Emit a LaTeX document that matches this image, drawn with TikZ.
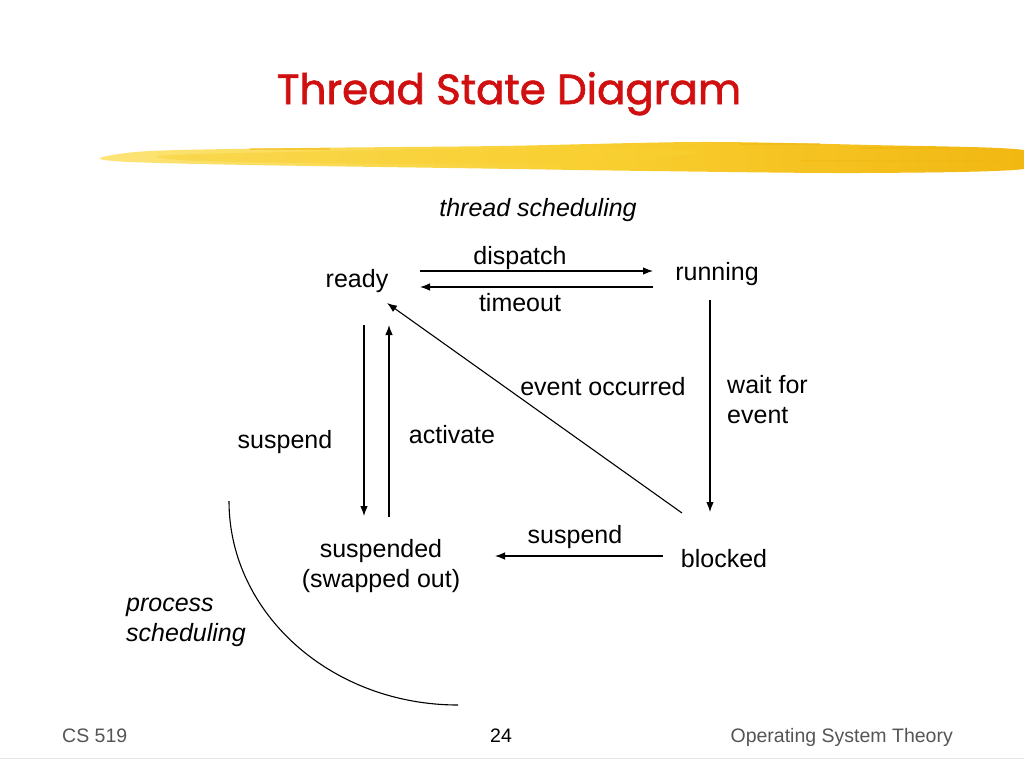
\documentclass[tikz,border=0pt]{standalone}
\usepackage{fontspec}
\setmainfont{Liberation Sans}
\newfontfamily\titlefont[FakeBold=1.6]{Poppins}
\usetikzlibrary{arrows.meta,calc}
\definecolor{titlered}{RGB}{208,16,16}
\definecolor{brushA}{RGB}{249,208,50}
\definecolor{brushB}{RGB}{241,182,16}
\definecolor{brushC}{RGB}{252,228,120}
\definecolor{footgray}{RGB}{85,85,85}
\begin{document}
\begin{tikzpicture}[x=1pt,y=-1pt,
  lbl/.style={inner sep=0pt,anchor=base,font=\fontsize{25}{30}\selectfont},
  ilbl/.style={lbl,font=\fontsize{25}{30}\selectfont\itshape},
  foot/.style={inner sep=0pt,anchor=base,font=\fontsize{19.5}{22}\selectfont,text=footgray},
  arr/.style={line width=1.1pt,-{Latex[length=10pt,width=7.5pt]}},
  plain/.style={line width=1.1pt}]
\useasboundingbox (0,0) rectangle (1024,768);
\fill[white] (0,0) rectangle (1024,768);
% brush stroke
\shade[left color=brushC,right color=brushB,middle color=brushA] plot[smooth cycle,tension=0.5] coordinates {(100,158) (150,151) (300,148) (500,146) (700,142) (870,145) (1024,150)
  (1024,169) (860,173) (650,171) (450,168) (250,165) (130,162)};
\fill[brushA,opacity=0.5] plot[smooth cycle,tension=0.5] coordinates {(170,155) (400,150) (600,148) (700,152) (600,162) (420,164) (200,161)};
\fill[brushB,opacity=0.5] (250,148) rectangle (330,150);
\fill[brushB,opacity=0.5] (740,143) rectangle (820,145);
\fill[brushB,opacity=0.5] (860,147) rectangle (950,149);
\fill[brushB,opacity=0.4] (800,160) rectangle (1000,162);
% title
\node[inner sep=0pt,anchor=base,font=\titlefont\fontsize{42}{48}\selectfont,text=titlered] (title) at (509,104) {Thread State Diagram};
% labels
\node[ilbl] (tsched) at (538,216) {thread scheduling};
\node[lbl] (ready) at (357,287) {ready};
\node[lbl] (running) at (717,280) {running};
\node[lbl] (blocked) at (724,567) {blocked};
\node[lbl,align=center] (susp) at (381,587) {suspended\\(swapped out)};
\node[lbl] (dispatch) at (520,264) {dispatch};
\node[lbl] (timeout) at (520,311) {timeout};
\node[lbl,anchor=base west,align=left] (waitev) at (727,423) {wait for\\event};
\node[lbl] (evocc) at (603,395) {event occurred};
\node[lbl] (suspL) at (285,448) {suspend};
\node[lbl] (activate) at (452,443) {activate};
\node[lbl] (suspB) at (575,543) {suspend};
\node[ilbl,anchor=base west,align=left] (psched) at (126,641) {process\\scheduling};
% connectors
\draw[arr] ($(ready.base)+(63,-16)$) -- ($(running.base)+(-64,-9)$);
\draw[arr] ($(running.base)+(-64,7)$) -- ($(ready.base)+(63,0)$);
\draw[arr] ($(running.base)+(-7,20)$) -- ($(blocked.base)+(-14,-55)$);
\draw[arr] ($(blocked.base)+(-42,-54)$) -- ($(ready.base)+(30,16)$);
\draw[arr] ($(blocked.base)+(-61,-11)$) -- ($(susp.base)+(114,-31)$);
\draw[arr] ($(ready.base)+(7,38)$) -- ($(susp.base)+(-17,-71)$);
\draw[arr] ($(susp.base)+(8,-70)$) -- ($(ready.base)+(32,38)$);
% process scheduling boundary
\coordinate (arcstart) at (229,501);
\draw[plain] (arcstart) arc[start angle=180,end angle=90,x radius=229,y radius=204];
% footer
\node[foot,anchor=base west] (course) at (62,742) {CS 519};
\node[foot,text=black] (page) at (501,742) {24};
\node[foot,anchor=base east] (subject) at (953,742) {Operating System Theory};
\draw[line width=0.8pt,black!10] (0,758) -- (1024,758);
\end{tikzpicture}
\end{document}
